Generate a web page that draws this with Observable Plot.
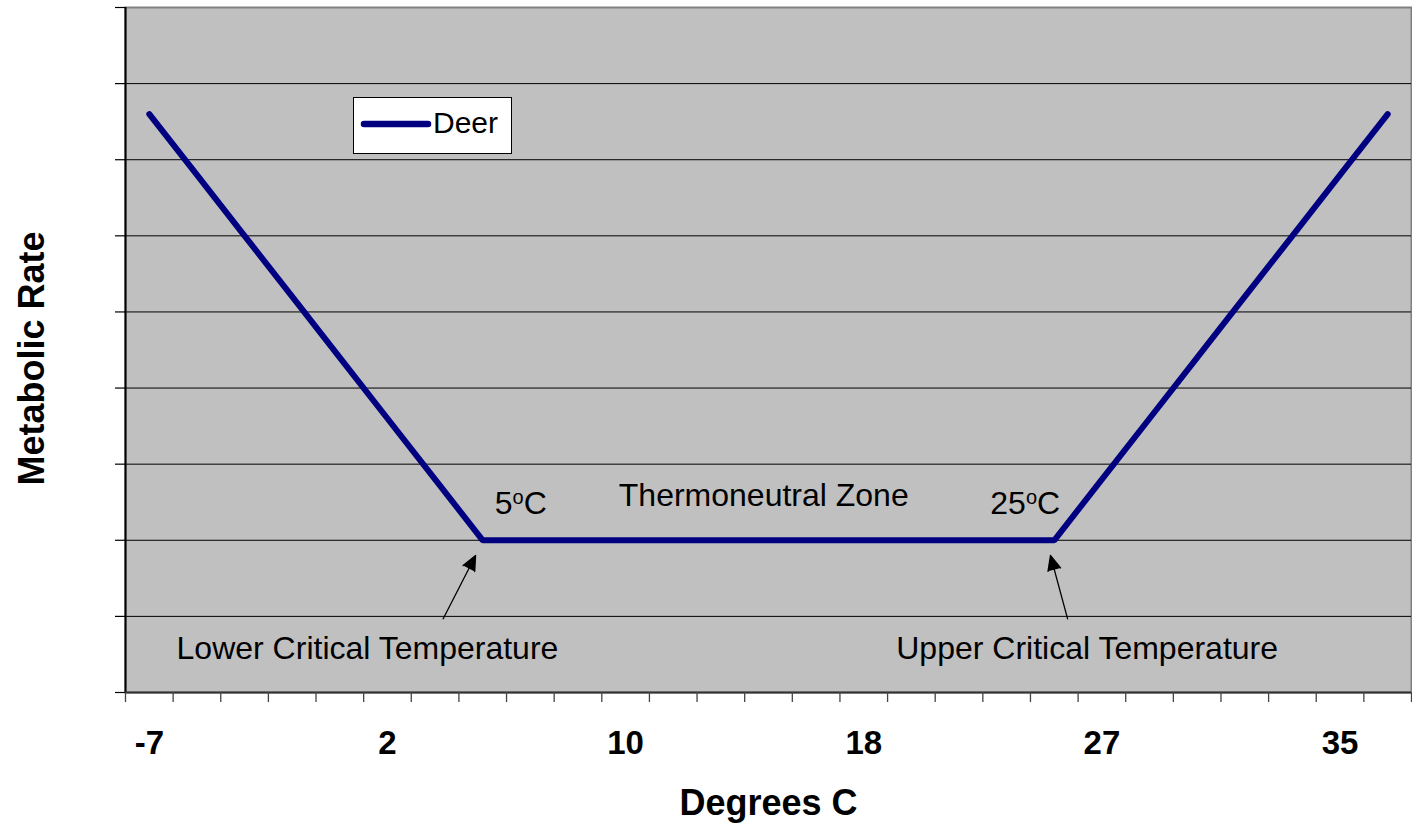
<!DOCTYPE html>
<html>
<head>
<meta charset="utf-8">
<title>Metabolic Rate vs Temperature — Deer</title>
<script src="https://cdn.jsdelivr.net/npm/d3@7"></script>
<script src="https://cdn.jsdelivr.net/npm/@observablehq/plot@0.6"></script>
<style>
  html, body { margin: 0; padding: 0; background: #ffffff; }
  #chart { position: relative; width: 1412px; height: 829px; }
  #legend { position: absolute; left: 353px; top: 97px; }
  svg { display: block; }
</style>
</head>
<body>
<div id="chart"></div>
<script>
// Ambient temperature categories (°C), one per column of the chart
const categories = [-7, -5, -3, -2, 0, 2, 3, 5, 7, 8, 10, 12, 13, 15, 17, 18, 20, 22, 23, 25, 27, 28, 30, 32, 33, 35, 37];

// Relative metabolic rate of deer at each temperature
const deer = [7.6, 6.8, 6.0, 5.2, 4.4, 3.6, 2.8,
              2, 2, 2, 2, 2, 2, 2, 2, 2, 2, 2, 2, 2,
              2.8, 3.6, 4.4, 5.2, 6.0, 6.8, 7.6];

// Category labels printed under the axis
const labeledTicks = ["-7", "2", "10", "18", "27", "35"];

// Horizontal gridlines and value-axis ticks (no labels on the value axis)
const gridLevels = [1, 2, 3, 4, 5, 6, 7, 8];
const yTicks = [0, 1, 2, 3, 4, 5, 6, 7, 8, 9];

// Text annotations placed in chart coordinates (category index, rate)
const notes = [
  {text: "Lower Critical Temperature", x: 4.58, y: 0.434},
  {text: "Upper Critical Temperature", x: 19.69, y: 0.434},
  {text: "Thermoneutral Zone", x: 12.9, y: 2.448},
  {text: "5°C", x: 7.80, y: 2.339},
  {text: "25°C", x: 18.39, y: 2.339}
];

// Pointers from the labels to the critical temperatures
const pointers = [
  {x1: 6.17, y1: 0.968, x2: 6.85, y2: 1.80},
  {x1: 19.28, y1: 0.968, x2: 18.92, y2: 1.80}
];

const rows = categories.map((t, i) => ({i, temp: t, rate: deer[i]}));
const boundaries = d3.range(categories.length + 1).map(k => k - 0.5);
const labelIdx = categories
  .map((t, i) => labeledTicks.includes(String(t)) ? i : null)
  .filter(i => i !== null);

const FONT = "'Liberation Sans', Arial, Helvetica, sans-serif";

const svg = Plot.plot({
  width: 1412,
  height: 829,
  marginLeft: 125,
  marginRight: 1,
  marginTop: 7,
  marginBottom: 137,
  style: {background: "#ffffff", fontFamily: FONT, overflow: "visible", color: "#000"},
  x: {type: "linear", domain: [-0.5, categories.length - 0.5]},
  y: {domain: [0, 9]},
  marks: [
    // plot area
    Plot.frame({fill: "#c0c0c0", stroke: "#808080", strokeWidth: 2}),
    Plot.ruleY(gridLevels, {stroke: "#000", strokeWidth: 1}),
    // axis lines
    Plot.ruleX([-0.5], {stroke: "#000", strokeWidth: 2}),
    Plot.ruleY([0], {stroke: "#333", strokeWidth: 2}),
    // tick marks
    Plot.axisY(yTicks, {tickSize: 10, stroke: "#000", strokeWidth: 1.2, fill: "none", label: null}),
    Plot.axisX(boundaries, {tickSize: 10, stroke: "#444", strokeWidth: 1.3, fill: "none", label: null}),
    // category labels
    Plot.axisX(labelIdx, {
      tickSize: 0, tickPadding: 38, tickFormat: i => String(categories[i]),
      fontSize: 33, fontWeight: "bold", fill: "#000", label: null
    }),
    // axis titles
    Plot.text(["Degrees C"], {
      frameAnchor: "bottom", textAnchor: "middle", lineAnchor: "bottom", dy: 122,
      fontSize: 36, fontWeight: "bold", fill: "#000"
    }),
    Plot.text(["Metabolic Rate"], {
      frameAnchor: "left", textAnchor: "middle", lineAnchor: "bottom", rotate: -90,
      dx: -82, dy: 8.5, fontSize: 36, fontWeight: "bold", fill: "#000"
    }),
    // annotations
    Plot.text(notes, {
      x: "x", y: "y", text: "text", textAnchor: "middle", lineAnchor: "bottom",
      fontSize: 32, fill: "#000"
    }),
    Plot.arrow(pointers, {
      x1: "x1", y1: "y1", x2: "x2", y2: "y2",
      stroke: "#000", fill: "#000", strokeWidth: 1.3, headLength: 18.5, headAngle: 48
    }),
    // the deer series
    Plot.line(rows, {
      x: "i", y: "rate", stroke: "#000080", strokeWidth: 6,
      strokeLinecap: "round", strokeLinejoin: "miter"
    })
  ]
});

// Render the "°" in temperature labels as a raised small "o"
svg.querySelectorAll("text").forEach(el => {
  const m = /^(\d+)°C$/.exec(el.textContent);
  if (!m) return;
  const ns = "http://www.w3.org/2000/svg";
  el.textContent = "";
  el.appendChild(document.createTextNode(m[1]));
  const sup = document.createElementNS(ns, "tspan");
  sup.setAttribute("font-size", "20");
  sup.setAttribute("dy", "-10");
  sup.textContent = "o";
  el.appendChild(sup);
  const c = document.createElementNS(ns, "tspan");
  c.setAttribute("dy", "10");
  c.textContent = "C";
  el.appendChild(c);
});

const chart = document.getElementById("chart");
chart.appendChild(svg);

// Series legend inside the plot area
const legend = d3.create("svg")
  .attr("id", "legend")
  .attr("width", 160)
  .attr("height", 58)
  .style("font-family", FONT);
legend.append("rect")
  .attr("x", 0.5).attr("y", 0.5).attr("width", 158).attr("height", 56)
  .attr("fill", "#ffffff").attr("stroke", "#000").attr("stroke-width", 1);
legend.append("line")
  .attr("x1", 11).attr("x2", 75).attr("y1", 27).attr("y2", 27)
  .attr("stroke", "#000080").attr("stroke-width", 6.5).attr("stroke-linecap", "round");
legend.append("text")
  .attr("x", 80).attr("y", 36)
  .attr("font-size", 30).attr("fill", "#000")
  .text("Deer");
chart.appendChild(legend.node());
</script>
</body>
</html>
